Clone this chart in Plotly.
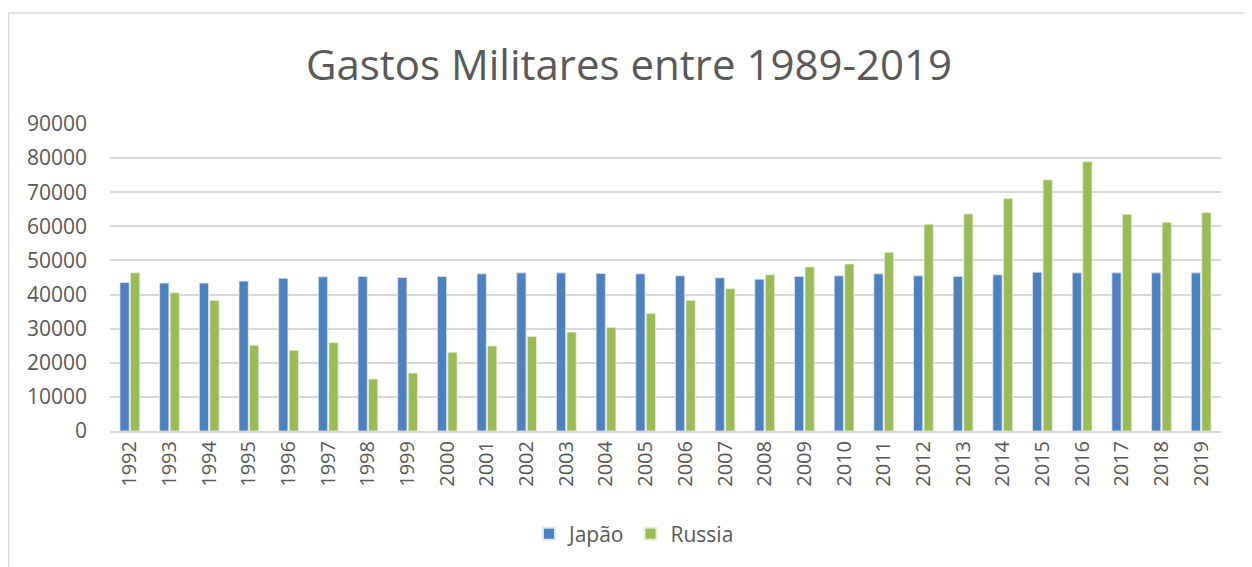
import plotly.graph_objects as go

years = [str(y) for y in range(1992, 2020)]
japao = [43550, 43360, 43360, 43940, 44810, 45200, 45300, 45000, 45300, 46070,
         46360, 46360, 46170, 46070, 45490, 44910, 44520, 45300, 45490, 46070,
         45490, 45300, 45780, 46560, 46360, 46360, 46360, 46360]
russia = [46360, 40540, 38310, 25120, 23670, 25900, 15230, 16970, 23080, 24930,
          27740, 29000, 30360, 34430, 38310, 41710, 45780, 48110, 48980, 52380,
          60620, 63630, 68190, 73620, 78950, 63530, 61200, 64020]
y_ticks = list(range(0, 90001, 10000))

FONT = "Open Sans"
GREY = "#595959"

fig = go.Figure()
fig.add_trace(go.Bar(x=years, y=japao, name="Japão",
                     marker=dict(color="#4F81BD", line=dict(color="#dce6f2", width=0.8))))
fig.add_trace(go.Bar(x=years, y=russia, name="Russia",
                     marker=dict(color="#9BBB59", line=dict(color="#e6eed5", width=0.8))))

# page body has an 8px margin: figure origin sits at (8, 8) on screen
OFF = 8
W, H = 1244, 559
ml, mt = 110 - OFF, 124 - OFF
right_edge, bottom_edge = 1221 - OFF, 434 - OFF
mr, mb = W - right_edge, H - bottom_edge
pw, ph = W - ml - mr, H - mt - mb

def px(x):
    return (x - OFF - ml) / pw

def py(y):
    return (H - mb - (y - OFF)) / ph

fig.update_layout(
    width=W, height=H,
    margin=dict(l=ml, r=mr, t=mt, b=mb),
    paper_bgcolor="white", plot_bgcolor="white",
    barmode="group", bargap=0.47, bargroupgap=0.12,
    font=dict(family=FONT, color=GREY, size=20),
    title=dict(text="Gastos Militares entre 1989-2019", x=px(629), xanchor="center", xref="paper",
               y=1 - (65 - OFF) / H, yanchor="middle",
               font=dict(family=FONT, size=42, color=GREY)),
    showlegend=True,
    legend=dict(orientation="h", x=px(634), xanchor="center", y=py(538), yanchor="middle",
                font=dict(family=FONT, size=21, color=GREY), itemsizing="constant",
                traceorder="normal"),
    xaxis=dict(type="category", tickangle=-90, showgrid=False, showline=True,
               linecolor="#d9d9d9", linewidth=2, ticks="",
               tickfont=dict(family=FONT, size=20, color=GREY)),
    yaxis=dict(range=[0, 90000], tickvals=y_ticks, ticktext=[str(v) for v in y_ticks],
               showgrid=True, gridcolor="#d9d9d9", gridwidth=1.5, zeroline=False,
               showline=False, ticks="", ticklabelstandoff=22,
               tickfont=dict(family=FONT, size=21, color=GREY)),
    shapes=[dict(type="rect", xref="paper", yref="paper",
                 x0=px(8.5), x1=px(1250), y0=py(580), y1=py(12),
                 line=dict(color="#d9d9d9", width=1.5), fillcolor="rgba(0,0,0,0)",
                 layer="below")],
)

fig.write_html("out.html")
